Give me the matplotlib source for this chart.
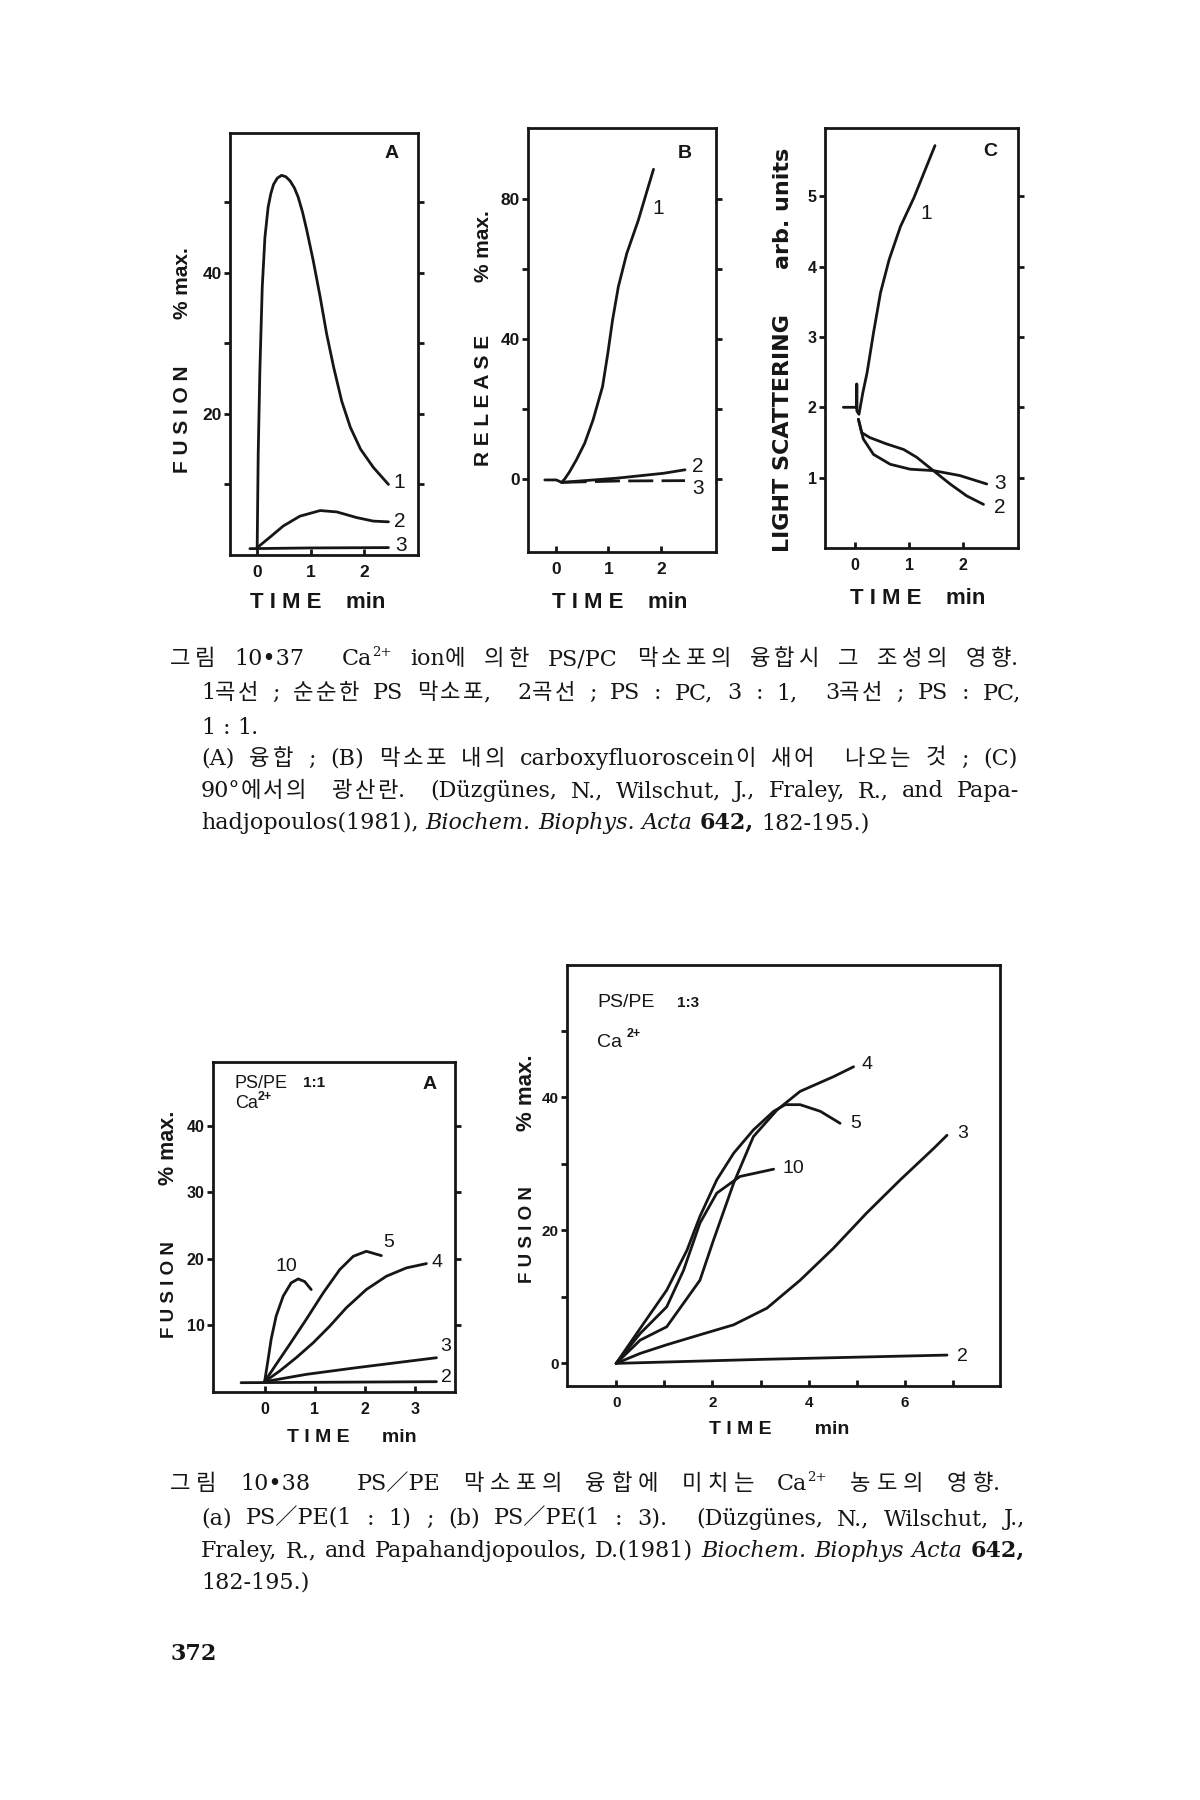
import re
import matplotlib
matplotlib.use('Agg')
import matplotlib.pyplot as plt

W, H = 1200, 1800
INK = '#161616'
SANS = ['Liberation Sans', 'DejaVu Sans']
HEAVY = ['DejaVu Sans']
LATIN = ['DejaVu Serif', 'Noto Sans CJK KR']
KOREAN = ['Noto Sans CJK KR', 'DejaVu Serif']

# ---------------- data: Fig 10.37 ----------------
A1_t = [0.006, 0.025, 0.056, 0.10, 0.15, 0.21, 0.26, 0.31, 0.38, 0.46, 0.54, 0.62, 0.70, 0.77, 0.85, 0.93,
        1.05, 1.18, 1.30, 1.43, 1.58, 1.74, 1.93, 2.17, 2.45]
A1_y = [1.0, 14.3, 26.1, 37.9, 45.0, 49.3, 51.2, 52.5, 53.4, 53.8, 53.6, 53.0, 52.0, 50.7, 48.6, 46.0,
        41.7, 36.5, 31.3, 26.6, 21.8, 18.1, 15.0, 12.4, 10.0]
A2_t = [0.0, 0.24, 0.49, 0.80, 1.18, 1.49, 1.86, 2.17, 2.45]
A2_y = [1.0, 2.5, 4.1, 5.5, 6.3, 6.1, 5.3, 4.8, 4.7]
A3_t = [-0.13, 1.0, 2.45]
A3_y = [0.9, 1.0, 1.05]

B1_t = [-0.21, 0.01, 0.11, 0.17, 0.26, 0.39, 0.55, 0.71, 0.89, 0.99, 1.08, 1.19, 1.35, 1.57, 1.76, 1.86]
B1_y = [-0.3, -0.3, -1.0, 0.0, 2.0, 5.4, 10.2, 16.9, 26.4, 35.9, 45.4, 54.9, 64.4, 73.9, 83.5, 88.5]
B2_t = [0.11, 1.16, 2.05, 2.46]
B2_y = [-1.0, 0.2, 1.6, 2.6]
B3_t = [0.11, 1.2, 2.46]
B3_y = [-1.0, -0.6, -0.5]

C1_t = [-0.22, 0.03, 0.03, 0.03, 0.07, 0.14, 0.22, 0.34, 0.47, 0.63, 0.84, 1.09, 1.29, 1.48]
C1_y = [2.0, 2.0, 2.33, 1.95, 1.90, 2.20, 2.49, 3.06, 3.63, 4.10, 4.57, 4.98, 5.36, 5.72]
C2_t = [0.06, 0.12, 0.27, 0.58, 0.90, 1.14, 1.45, 1.76, 2.07, 2.38]
C2_y = [1.83, 1.64, 1.57, 1.48, 1.40, 1.29, 1.10, 0.91, 0.74, 0.62]
C3_t = [0.06, 0.15, 0.34, 0.65, 1.02, 1.45, 1.94, 2.44]
C3_y = [1.83, 1.55, 1.33, 1.19, 1.12, 1.10, 1.03, 0.91]

# ---------------- data: Fig 10.38 ----------------
a2_t = [-0.47, 3.43]
a2_y = [1.4, 1.55]
a3_t = [0.0, 0.83, 1.83, 3.43]
a3_y = [1.55, 2.65, 3.65, 5.15]
a4_t = [0.0, 0.3, 0.63, 0.97, 1.3, 1.63, 2.03, 2.43, 2.83, 3.23]
a4_y = [1.55, 3.15, 5.15, 7.4, 9.9, 12.65, 15.4, 17.4, 18.65, 19.3]
a5_t = [0.0, 0.23, 0.5, 0.83, 1.17, 1.5, 1.77, 2.03, 2.33]
a5_y = [1.55, 4.15, 7.15, 10.9, 14.9, 18.4, 20.4, 21.15, 20.5]
a10_t = [0.0, 0.07, 0.13, 0.23, 0.37, 0.53, 0.67, 0.8, 0.93]
a10_y = [1.55, 4.9, 7.9, 11.4, 14.4, 16.4, 17.0, 16.6, 15.4]

b2_t = [0.0, 3.0, 6.87]
b2_y = [0.0, 0.6, 1.25]
b3_t = [0.0, 0.5, 1.05, 1.74, 2.44, 3.13, 3.82, 4.51, 5.2, 5.9, 6.59, 6.87]
b3_y = [0.0, 1.5, 2.8, 4.3, 5.8, 8.3, 12.5, 17.3, 22.6, 27.6, 32.3, 34.3]
b4_t = [0.0, 0.5, 1.05, 1.74, 2.02, 2.44, 2.85, 3.34, 3.82, 4.51, 4.93]
b4_y = [0.0, 3.5, 5.5, 12.5, 18.5, 27.1, 34.1, 38.1, 40.9, 43.1, 44.6]
b5_t = [0.0, 0.57, 1.05, 1.47, 1.74, 2.09, 2.44, 2.85, 3.27, 3.51, 3.82, 4.24, 4.65]
b5_y = [0.0, 6.0, 11.0, 17.0, 22.1, 27.6, 31.6, 35.1, 37.9, 38.9, 38.9, 37.9, 36.1]
b10_t = [0.0, 0.5, 1.05, 1.4, 1.74, 2.09, 2.57, 3.27]
b10_y = [0.0, 4.5, 8.5, 14.0, 21.1, 25.6, 28.1, 29.2]

fig = plt.figure(figsize=(12, 18), dpi=100)
fig.patch.set_facecolor('white')
renderer = fig.canvas.get_renderer()


def mkax(x0, y0, x1, y1):
    ax = fig.add_axes([x0 / W, 1 - y1 / H, (x1 - x0) / W, (y1 - y0) / H])
    for s in ax.spines.values():
        s.set_linewidth(2.0)
        s.set_color(INK)
    ax.set_facecolor('none')
    return ax


def ticks(ax, xt, xl, yt, yl, fs, right=True):
    ax.set_xticks(xt)
    ax.set_xticklabels(xl)
    ax.set_yticks(yt)
    ax.set_yticklabels(yl)
    ax.tick_params(axis='y', direction='out', length=4, width=2, left=True,
                   right=right, pad=2, labelsize=fs, colors=INK)
    ax.tick_params(axis='x', direction='in', length=4, width=2, bottom=True,
                   top=False, pad=7, labelsize=fs, colors=INK)
    for lab in ax.get_xticklabels() + ax.get_yticklabels():
        lab.set_fontweight('bold')
        lab.set_family(SANS)


def curve(ax, t, y, **kw):
    ax.plot(t, y, color=INK, lw=2.0, solid_joinstyle='round',
            solid_capstyle='round', **kw)


def ftext(x, y, s, **kw):
    kw.setdefault('color', INK)
    kw.setdefault('family', SANS)
    return fig.text(x / W, 1 - y / H, s, **kw)


def vlabel(x, y, s, fs, family=SANS):
    ftext(x, y, s, rotation=90, ha='center', va='center', fontsize=fs,
          fontweight='bold', family=family)


def clabel(ax, t, y, s, fs):
    ax.text(t, y, s, fontsize=fs, family=SANS, color=INK, ha='left', va='center')


def letter(ax, t, y, s):
    ax.text(t, y, s, fontsize=14, fontweight='bold', family=SANS, color=INK,
            ha='center', va='center')


# ---------- Fig 10.37 A ----------
ax = mkax(230, 133, 418, 555)
curve(ax, A1_t, A1_y)
curve(ax, A2_t, A2_y)
curve(ax, A3_t, A3_y)
ax.set_xlim(-0.5, 3.0)
ax.set_ylim(0, 59.8)
ticks(ax, [0, 1, 2], ['0', '1', '2'], [10, 20, 30, 40, 50], ['', '20', '', '40', ''], 12.5)
clabel(ax, 2.55, 10.3, '1', 15)
clabel(ax, 2.55, 4.8, '2', 15)
clabel(ax, 2.57, 1.4, '3', 15)
letter(ax, 2.5, 56.9, 'A')
vlabel(183, 419, 'F U S I O N', 15)
vlabel(183, 283, '% max.', 15)
ftext(318, 603, 'T I M E    min', ha='center', va='center', fontsize=16, fontweight='bold')

# ---------- Fig 10.37 B ----------
ax = mkax(528, 128, 716, 552)
curve(ax, B1_t, B1_y)
curve(ax, B2_t, B2_y)
ax.plot(B3_t, B3_y, color=INK, lw=2.0, dashes=(9, 3))
ax.set_xlim(-0.53, 3.05)
ax.set_ylim(-20.9, 100.3)
ticks(ax, [0, 1, 2], ['0', '1', '2'], [0, 20, 40, 60, 80], ['0', '', '40', '', '80'], 12.5)
clabel(ax, 1.84, 77.3, '1', 15)
clabel(ax, 2.6, 3.5, '2', 15)
clabel(ax, 2.6, -2.7, '3', 15)
letter(ax, 2.45, 93, 'B')
vlabel(483, 400, 'R E L E A S E', 15)
vlabel(483, 246, '% max.', 15)
ftext(620, 603, 'T I M E    min', ha='center', va='center', fontsize=16, fontweight='bold')

# ---------- Fig 10.37 C ----------
ax = mkax(825, 128, 1018, 548)
curve(ax, C1_t, C1_y)
curve(ax, C2_t, C2_y)
curve(ax, C3_t, C3_y)
ax.set_xlim(-0.56, 3.02)
ax.set_ylim(0, 5.97)
ticks(ax, [0, 1, 2], ['0', '1', '2'], [1, 2, 3, 4, 5], ['1', '2', '3', '4', '5'], 11.5)
clabel(ax, 1.2, 4.76, '1', 15)
clabel(ax, 2.58, 0.91, '3', 15)
clabel(ax, 2.58, 0.58, '2', 15)
letter(ax, 2.5, 5.64, 'C')
vlabel(783, 433, 'LIGHT SCATTERING', 16, HEAVY)
vlabel(783, 208, 'arb. units', 16, HEAVY)
ftext(918, 598, 'T I M E    min', ha='center', va='center', fontsize=16, fontweight='bold')

# ---------- Fig 10.38 a ----------
ax = mkax(213, 1062, 455, 1392)
for t, y in [(a2_t, a2_y), (a3_t, a3_y), (a4_t, a4_y), (a5_t, a5_y), (a10_t, a10_y)]:
    curve(ax, t, y)
ax.set_xlim(-1.03, 3.8)
ax.set_ylim(0, 49.6)
ticks(ax, [0, 1, 2, 3], ['0', '1', '2', '3'], [10, 20, 30, 40], ['10', '20', '30', '40'], 11.5)
clabel(ax, 0.22, 18.9, '10', 14)
clabel(ax, 2.36, 22.4, '5', 14)
clabel(ax, 3.33, 19.4, '4', 14)
clabel(ax, 3.5, 6.9, '3', 14)
clabel(ax, 3.53, 2.15, '2', 14)
ax.text(0.09, 0.935, 'PS/PE', transform=ax.transAxes, fontsize=13, family=SANS, color=INK, ha='left', va='center')
ax.text(0.37, 0.935, '1:1', transform=ax.transAxes, fontsize=11, fontweight='bold', family=SANS, color=INK, ha='left', va='center')
ax.text(0.09, 0.875, 'Ca', transform=ax.transAxes, fontsize=13, family=SANS, color=INK, ha='left', va='center')
ax.text(0.185, 0.895, '2+', transform=ax.transAxes, fontsize=9, fontweight='bold', family=SANS, color=INK, ha='left', va='center')
letter(ax, 3.3, 46.2, 'A')
vlabel(169, 1290, 'F U S I O N', 13.5)
vlabel(169, 1148, '% max.', 15.5)
ftext(352, 1437, 'T I M E      min', ha='center', va='center', fontsize=14, fontweight='bold')

# ---------- Fig 10.38 b ----------
ax = mkax(567, 965, 1000, 1386)
for t, y in [(b2_t, b2_y), (b3_t, b3_y), (b4_t, b4_y), (b5_t, b5_y), (b10_t, b10_y)]:
    curve(ax, t, y)
ax.set_xlim(-1.02, 7.97)
ax.set_ylim(-3.4, 59.9)
ticks(ax, [0, 1, 2, 3, 4, 5, 6, 7], ['0', '', '2', '', '4', '', '6', ''],
      [0, 10, 20, 30, 40, 50], ['0', '', '20', '', '40', ''], 11, right=False)
clabel(ax, 5.1, 44.9, '4', 14)
clabel(ax, 4.86, 36.1, '5', 14)
clabel(ax, 7.08, 34.6, '3', 14)
clabel(ax, 3.45, 29.3, '10', 14)
clabel(ax, 7.08, 1.0, '2', 14)
ax.text(0.069, 0.91, 'PS/PE', transform=ax.transAxes, fontsize=14, family=SANS, color=INK, ha='left', va='center')
ax.text(0.255, 0.91, '1:3', transform=ax.transAxes, fontsize=11, fontweight='bold', family=SANS, color=INK, ha='left', va='center')
ax.text(0.069, 0.815, 'Ca', transform=ax.transAxes, fontsize=14, family=SANS, color=INK, ha='left', va='center')
ax.text(0.138, 0.835, '2+', transform=ax.transAxes, fontsize=9, fontweight='bold', family=SANS, color=INK, ha='left', va='center')
vlabel(527, 1235, 'F U S I O N', 13.5)
vlabel(527, 1093, '% max.', 16)
ftext(779, 1430, 'T I M E        min', ha='center', va='center', fontsize=14, fontweight='bold')


# ---------- captions ----------
FS_L = 16.0   # latin
FS_K = 16.0   # hangul
LGW = 0.35    # share of justification space put between hangul letters
HANGUL = re.compile(r'([\uac00-\ud7a3\u3131-\u318e])')


def props(st):
    if st == 'k':
        return dict(family=KOREAN, fontsize=FS_K)
    if st == 'sup':
        return dict(family=LATIN, fontsize=FS_L * 0.6)
    return dict(family=LATIN, fontsize=FS_L,
                fontstyle='italic' if st == 'i' else 'normal',
                fontweight='bold' if st == 'b' else 'normal')


def measure(s, **kw):
    t = fig.text(0, 0, s, **kw)
    w = t.get_window_extent(renderer).width
    t.remove()
    return w


def line(x0, y, runs, right=None):
    pieces = []   # [text, style, n_spaces_before, letter_gap_before]
    pending = 0
    for text, st in runs:
        for tok in re.split(r'( +)', text):
            if tok == '':
                continue
            if tok.startswith(' '):
                pending += len(tok)
                continue
            first = True
            prev_k = False
            for seg in HANGUL.split(tok):
                if seg == '':
                    continue
                is_k = bool(HANGUL.fullmatch(seg))
                sst = 'k' if is_k else st
                pieces.append([seg, sst, pending if first else 0,
                               (not first) and is_k and prev_k])
                first = False
                prev_k = is_k
            pending = 0
    widths = [measure(p[0], **props(p[1])) for p in pieces]
    sp = measure('a a', **props('n')) - measure('aa', **props('n'))
    nsp = sum(p[2] for p in pieces[1:])
    nlg = sum(1 for p in pieces[1:] if p[3])
    nat = sum(widths) + nsp * sp
    add = 0.0
    tot = nsp + LGW * nlg
    if right is not None and tot > 0:
        add = (right - x0 - nat) / tot
        add = max(add, -0.6 * sp)
    x = x0
    for i, (p, w) in enumerate(zip(pieces, widths)):
        if i > 0:
            x += p[2] * (sp + add)
            if p[3]:
                x += LGW * max(add, 0.0)
        dy = FS_L * 100 / 72 * 0.42 if p[1] == 'sup' else 0
        fig.text(x / W, 1 - (y - dy) / H, p[0], va='baseline', ha='left', color=INK, **props(p[1]))
        x += w


line(170, 665, [('그림 10•37  Ca', 'n'), ('2+', 'sup'), (' ion에 의한 PS/PC 막소포의 융합시 그 조성의 영향.', 'n')], right=1018)
line(201, 699, [('1곡선 ; 순순한 PS 막소포,  2곡선 ; PS : PC, 3 : 1,  3곡선 ; PS : PC,', 'n')], right=1021)
line(201, 734, [('1 : 1.', 'n')])
line(201, 765, [('(A) 융합 ; (B) 막소포 내의 carboxyfluoroscein이 새어  나오는 것 ; (C)', 'n')], right=1018)
line(201, 797, [('90°에서의  광산란.  (Düzgünes, N., Wilschut, J., Fraley, R., and Papa-', 'n')], right=1019)
line(201, 829, [('hadjopoulos(1981), ', 'n'), ('Biochem. Biophys. Acta', 'i'), (' ', 'n'), ('642,', 'b'), (' 182-195.)', 'n')])

line(170, 1490, [('그림 10•38  PS／PE 막소포의 융합에 미치는 Ca', 'n'), ('2+', 'sup'), (' 농도의 영향.', 'n')], right=1000)
line(201, 1525, [('(a) PS／PE(1 : 1) ; (b) PS／PE(1 : 3).  (Düzgünes, N., Wilschut, J.,', 'n')], right=1025)
line(201, 1557, [('Fraley, R., and Papahandjopoulos, D.(1981) ', 'n'), ('Biochem. Biophys Acta', 'i'), (' ', 'n'), ('642,', 'b')], right=1025)
line(201, 1589, [('182-195.)', 'n')])
line(170, 1660, [('372', 'b')])

fig.savefig('out.png', dpi=100, facecolor='white')
